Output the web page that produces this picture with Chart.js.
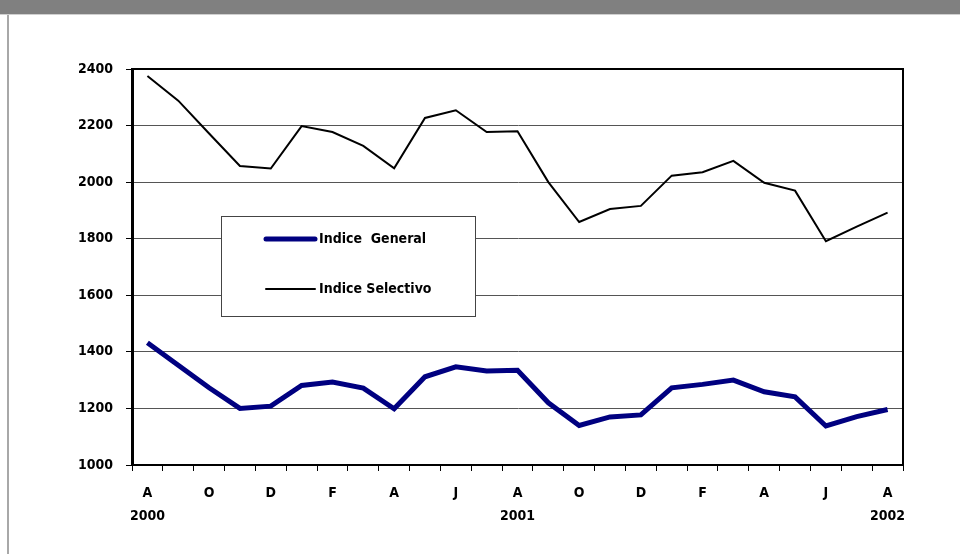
<!DOCTYPE html>
<html>
<head>
<meta charset="utf-8">
<script src="https://cdn.jsdelivr.net/npm/chart.js@4/dist/chart.umd.min.js"></script>
<style>
  body { margin: 0; background: #fff; }
  #wrap { position: relative; width: 960px; height: 554px; overflow: hidden; }
  #band { position: absolute; left: 0; top: 0; width: 960px; height: 14px; background: #808080; border-bottom: 1px solid #d0d0d0; }
  #edge { position: absolute; left: 7px; top: 15px; width: 2px; height: 539px; background: #a8a8a8; }
  canvas { position: absolute; left: 0; top: 0; }
</style>
</head>
<body>
<div id="wrap">
  <div id="band"></div>
  <div id="edge"></div>
  <canvas id="chart" width="960" height="554"></canvas>
</div>
<script>
// month initials (every second one is shown) and year under the August ticks
const months = ['A','','O','','D','','F','','A','','J','','A','','O','','D','','F','','A','','J','','A'];
const years  = ['2000','','','','','','','','','','','','2001','','','','','','','','','','','','2002'];

const indiceGeneral = [1432, 1353, 1273, 1200, 1208, 1281, 1293, 1272, 1199, 1312, 1347, 1332, 1335,
                       1220, 1140, 1170, 1177, 1273, 1285, 1300, 1259, 1241, 1138, 1171, 1196];
const indiceSelectivo = [2375, 2288, 2172, 2057, 2048, 2198, 2177, 2128, 2049, 2227, 2254, 2177, 2180,
                         2000, 1859, 1905, 1916, 2023, 2035, 2075, 1998, 1970, 1791, 1843, 1892];

const labels = months.map((m, i) => years[i] ? [m, years[i]] : m);

const FONT = "'Liberation Sans Narrow', 'Arial Narrow', 'DejaVu Sans Condensed', Arial, sans-serif";

// legend box inside the plot, plus black frame round the plot area
const frameAndLegend = {
  id: 'frameAndLegend',
  afterDraw(chart) {
    const c = chart.ctx, a = chart.chartArea;
    c.save();
    c.strokeStyle = '#000';
    c.lineWidth = 2;
    c.beginPath();
    c.moveTo(a.left, a.top);
    c.lineTo(a.right, a.top);
    c.lineTo(a.right, a.bottom);
    c.stroke();

    const y = chart.scales.y;
    const x = chart.scales.x;
    const bx = Math.round(x.getPixelForValue(2.4)), by = Math.round(y.getPixelForValue(1882));
    const bw = 254, bh = 100;
    c.fillStyle = '#fff';
    c.fillRect(bx, by, bw, bh);
    c.strokeStyle = '#444';
    c.lineWidth = 1;
    c.strokeRect(bx + 0.5, by + 0.5, bw, bh);

    chart.data.datasets.forEach((ds, i) => {
      const ly = by + 23 + i * 50;
      c.strokeStyle = ds.borderColor;
      c.lineWidth = ds.borderWidth;
      c.lineCap = 'round';
      c.beginPath();
      c.moveTo(bx + 45, ly);
      c.lineTo(bx + 94, ly);
      c.stroke();
      c.fillStyle = '#000';
      c.font = 'bold 14px ' + FONT;
      c.textBaseline = 'middle';
      c.fillText(ds.label, bx + 98, ly);
    });
    c.restore();
  }
};

new Chart(document.getElementById('chart'), {
  type: 'line',
  data: {
    labels: labels,
    datasets: [{
      label: 'Indice  General',
      data: indiceGeneral,
      borderColor: '#000080',
      borderWidth: 5,
      pointRadius: 0,
      tension: 0
    }, {
      label: 'Indice Selectivo',
      data: indiceSelectivo,
      borderColor: '#000',
      borderWidth: 2,
      pointRadius: 0,
      tension: 0
    }]
  },
  options: {
    responsive: false,
    animation: false,
    layout: { padding: { left: 0, right: 57, top: 69, bottom: 29 } },
    plugins: { legend: { display: false }, tooltip: { enabled: false } },
    scales: {
      x: {
        offset: true,
        grid: { offset: true, drawOnChartArea: false, tickLength: 6, tickColor: '#000', tickWidth: 1 },
        border: { color: '#000', width: 2 },
        ticks: {
          autoSkip: false, maxRotation: 0, padding: 10, color: '#000',
          font: { family: FONT, size: 14, weight: 'bold', lineHeight: 1.7 }
        },
        afterFit(s) { s.height = 60; }
      },
      y: {
        min: 1000, max: 2400,
        ticks: {
          stepSize: 200, padding: 13, color: '#000',
          font: { family: FONT, size: 14, weight: 'bold' },
          callback: v => String(v)
        },
        grid: { color: '#555', lineWidth: 1, tickLength: 6, tickColor: '#000' },
        border: { color: '#000', width: 3 },
        afterFit(s) { s.width = 132; }
      }
    }
  },
  plugins: [frameAndLegend]
});
</script>
</body>
</html>
